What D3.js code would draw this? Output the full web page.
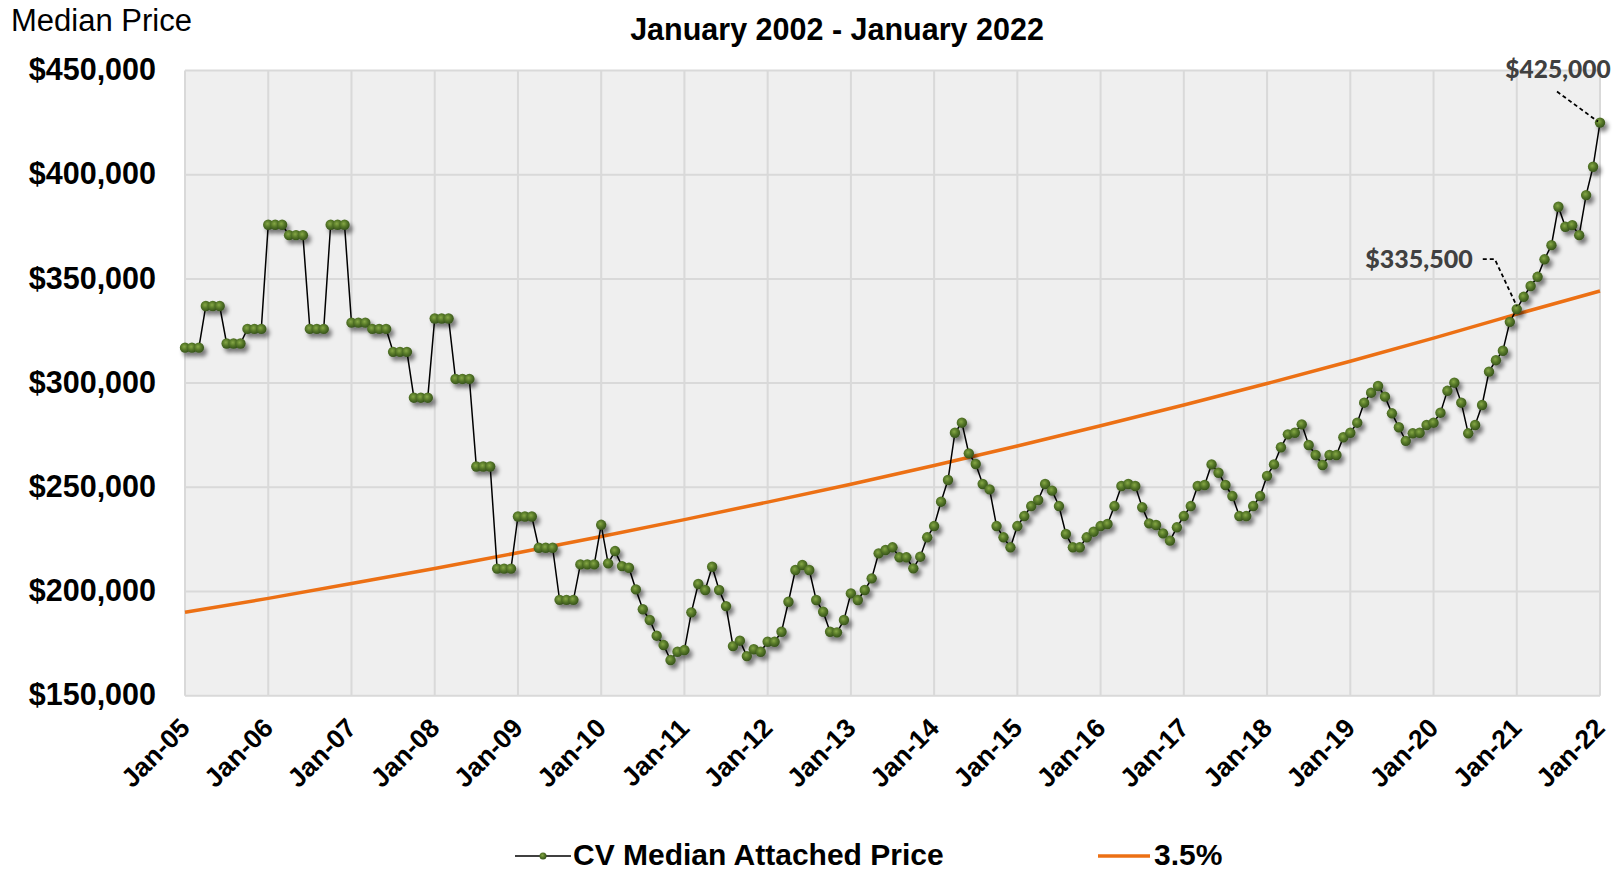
<!DOCTYPE html>
<html><head><meta charset="utf-8">
<script src="https://cdn.jsdelivr.net/npm/d3@7"></script>
<style>
html,body{margin:0;padding:0;background:#fff;}
svg{display:block;font-family:"Liberation Sans",Arial,sans-serif;}
</style></head>
<body>
<svg id="chart" width="1616" height="872"></svg>
<script>
// ---- data ----
const startMonth = "2005-01";
const yearLabels = ["Jan-05","Jan-06","Jan-07","Jan-08","Jan-09","Jan-10","Jan-11","Jan-12","Jan-13","Jan-14","Jan-15","Jan-16","Jan-17","Jan-18","Jan-19","Jan-20","Jan-21","Jan-22"];
const yTicks = [150000,200000,250000,300000,350000,400000,450000];
const price2005 = [317000,317000,317000,337000,337000,337000,319000,319000,319000,326000,326000,326000];
const price2006 = [376000,376000,376000,371000,371000,371000,326000,326000,326000,376000,376000,376000];
const price2007 = [329000,329000,329000,326000,326000,326000,315000,315000,315000,293000,293000,293000];
const price2008 = [331000,331000,331000,302000,302000,302000,260000,260000,260000,211000,211000,211000];
const price2009 = [236000,236000,236000,221000,221000,221000,196000,196000,196000,213000,213000,213000];
const price2010 = [232000,213500,219400,212200,211400,201000,191500,186300,178800,174300,167100,171100];
const price2011 = [171900,190000,203600,200700,211900,200700,193000,173800,176400,169000,172300,171100];
const price2012 = [175900,175900,180700,195100,210300,212700,210300,195900,190300,180700,180400,186300];
const price2013 = [199100,195900,200700,206300,218300,219900,221200,216400,216400,211100,216700,226000];
const price2014 = [231400,243100,253500,276200,281000,266300,261200,251600,249000,231400,226000,221200];
const price2015 = [231400,236200,241000,243900,251600,248400,241000,227600,221200,221200,226000,228700];
const price2016 = [231400,232400,241000,250600,251600,250600,240400,232700,231900,227900,224400,230800];
const price2017 = [236200,241000,250600,251100,261000,257000,251100,245800,236200,236200,241000,245800];
const price2018 = [255500,261000,269200,275400,276200,280200,270300,265500,260700,265500,265500,274000];
const price2019 = [276200,281000,290600,295400,298600,293500,285500,278800,272300,275900,276200,279900];
const price2020 = [281000,285800,296300,300200,290600,275900,279900,289500,305500,311000,315500,329400];
const price2021 = [335500,341400,346600,351000,359400,366200,384600,375000,375800,371000,390200,403800];
const price2022 = [425000];
// 3.5% reference line, read at each January
const trend = [190000,196700,203800,211000,218600,226400,234500,242900,251500,260500,269800,279500,289500,299800,310500,321600,333100,344200];
const annotations = [{label:"$335,500", month:"2021-01"},{label:"$425,000", month:"2022-01"}];
const seriesNames = ["CV Median Attached Price","3.5%"];

// ---- build ----
const prices = [].concat(price2005,price2006,price2007,price2008,price2009,price2010,price2011,price2012,price2013,price2014,price2015,price2016,price2017,price2018,price2019,price2020,price2021,price2022);
const parse = d3.timeParse("%Y-%m");
const t0 = parse(startMonth);
const monthIdx = d => d3.timeMonth.count(t0, d);
const series = prices.map((v,i)=>({date:d3.timeMonth.offset(t0,i), v}));
const trendData = trend.map((v,i)=>({date:d3.timeMonth.offset(t0,i*12), v}));

const svg = d3.select("#chart");
const L=185, R=1600, T=70.5, B=695.7;
const x = d3.scaleLinear().domain([0,204]).range([L,R]);
const y = d3.scaleLinear().domain([150000,450000]).range([B,T]);
const X = d => x(monthIdx(d));

const defs = svg.append("defs");
const rg = defs.append("radialGradient").attr("id","mk").attr("cx","42%").attr("cy","40%").attr("r","62%");
rg.append("stop").attr("offset","0%").attr("stop-color","#86a846");
rg.append("stop").attr("offset","50%").attr("stop-color","#567828");
rg.append("stop").attr("offset","100%").attr("stop-color","#34501a");
const f = defs.append("filter").attr("id","sh").attr("x","-100%").attr("y","-100%").attr("width","300%").attr("height","300%");
f.append("feGaussianBlur").attr("in","SourceAlpha").attr("stdDeviation",2.2).attr("result","b");
f.append("feOffset").attr("in","b").attr("dx",3).attr("dy",4).attr("result","o");
f.append("feComponentTransfer").attr("in","o").attr("result","o2").append("feFuncA").attr("type","linear").attr("slope",0.5);
f.append("feGaussianBlur").attr("in","SourceGraphic").attr("stdDeviation",0.7).attr("result","sg");
const fm = f.append("feMerge");
fm.append("feMergeNode").attr("in","o2");
fm.append("feMergeNode").attr("in","sg");

// background
svg.append("rect").attr("x",L).attr("y",T).attr("width",R-L).attr("height",B-T).attr("fill","#efefef");
// gridlines
const grid = svg.append("g").attr("stroke","#d9d9d9").attr("stroke-width",2);
yTicks.forEach(v=>grid.append("line").attr("x1",L).attr("x2",R).attr("y1",y(v)).attr("y2",y(v)));
yearLabels.forEach((s,i)=>grid.append("line").attr("x1",x(i*12)).attr("x2",x(i*12)).attr("y1",T).attr("y2",B));

// y axis labels
const yAxis = d3.axisLeft(y).tickValues(yTicks).tickSize(0).tickPadding(0).tickFormat(d=>"$"+d3.format(",")(d));
const ya = svg.append("g").attr("transform",`translate(${L-29},0)`).call(yAxis);
ya.select(".domain").remove();
ya.selectAll("text").attr("font-size",30.5).attr("font-weight","bold").attr("fill","#000")
  .attr("font-family","Liberation Sans, Arial, sans-serif").attr("dy","0.3em").attr("y",0);

// x axis labels
const xAxis = d3.axisBottom(x).tickValues(yearLabels.map((s,i)=>i*12)).tickSize(0).tickFormat((d,i)=>yearLabels[i]);
const xa = svg.append("g").attr("transform",`translate(0,${B})`).call(xAxis);
xa.select(".domain").remove();
xa.selectAll("text").attr("font-size",26.5).attr("font-weight","bold").attr("fill","#000")
  .attr("font-family","Liberation Sans, Arial, sans-serif")
  .attr("text-anchor","end").attr("dy",0).attr("y",0)
  .attr("transform","translate(6,34) rotate(-45)");

// trend line
svg.append("path").datum(trendData).attr("fill","none").attr("stroke","#ec7014").attr("stroke-width",3.5)
  .attr("d", d3.line().x(d=>X(d.date)).y(d=>y(d.v)));

// price line
svg.append("path").datum(series).attr("fill","none").attr("stroke","#000").attr("stroke-width",1.5)
  .attr("d", d3.line().x(d=>X(d.date)).y(d=>y(d.v)));
svg.append("g").attr("filter","url(#sh)").selectAll("circle").data(series).join("circle")
  .attr("cx",d=>X(d.date)).attr("cy",d=>y(d.v)).attr("r",5.2).attr("fill","url(#mk)");

// annotations
const a1 = annotations[0], p1 = {x:X(parse(a1.month)), y:y(prices[monthIdx(parse(a1.month))])};
svg.append("path").attr("fill","none").attr("stroke","#000").attr("stroke-width",1.8).attr("stroke-dasharray","4,3")
  .attr("d",`M${p1.x-34},${p1.y-50} L${p1.x-22},${p1.y-50} L${p1.x},${p1.y-3}`);
svg.append("text").attr("x",p1.x-44).attr("y",p1.y-41).attr("text-anchor","end").attr("font-family","Lato, sans-serif")
  .attr("font-weight","900").attr("font-size",25).attr("fill","#404040").text(a1.label);
const a2 = annotations[1], p2 = {x:X(parse(a2.month)), y:y(prices[monthIdx(parse(a2.month))])};
svg.append("path").attr("fill","none").attr("stroke","#000").attr("stroke-width",1.8).attr("stroke-dasharray","4,3")
  .attr("d",`M${p2.x-43},${p2.y-31} L${p2.x-2},${p2.y-1}`);
svg.append("text").attr("x",p2.x-42).attr("y",p2.y-45).attr("text-anchor","middle").attr("font-family","Lato, sans-serif")
  .attr("font-weight","900").attr("font-size",24.5).attr("fill","#404040").text(a2.label);

// titles
svg.append("text").attr("x",837).attr("y",40).attr("text-anchor","middle").attr("font-weight","bold").attr("font-size",30.5).text("January 2002 - January 2022");
svg.append("text").attr("x",11).attr("y",31).attr("font-size",31).text("Median Price");

// legend
const lg = svg.append("g");
lg.append("line").attr("x1",515).attr("x2",571).attr("y1",856).attr("y2",856).attr("stroke","#000").attr("stroke-width",1.6);
lg.append("circle").attr("cx",543).attr("cy",856).attr("r",3.5).attr("fill","url(#mk)");
lg.append("text").attr("x",573).attr("y",865).attr("font-weight","bold").attr("font-size",30).text(seriesNames[0]);
lg.append("line").attr("x1",1098).attr("x2",1150).attr("y1",856).attr("y2",856).attr("stroke","#ec7014").attr("stroke-width",3.5);
lg.append("text").attr("x",1154).attr("y",865).attr("font-weight","bold").attr("font-size",30).text(seriesNames[1]);
</script>
</body></html>
